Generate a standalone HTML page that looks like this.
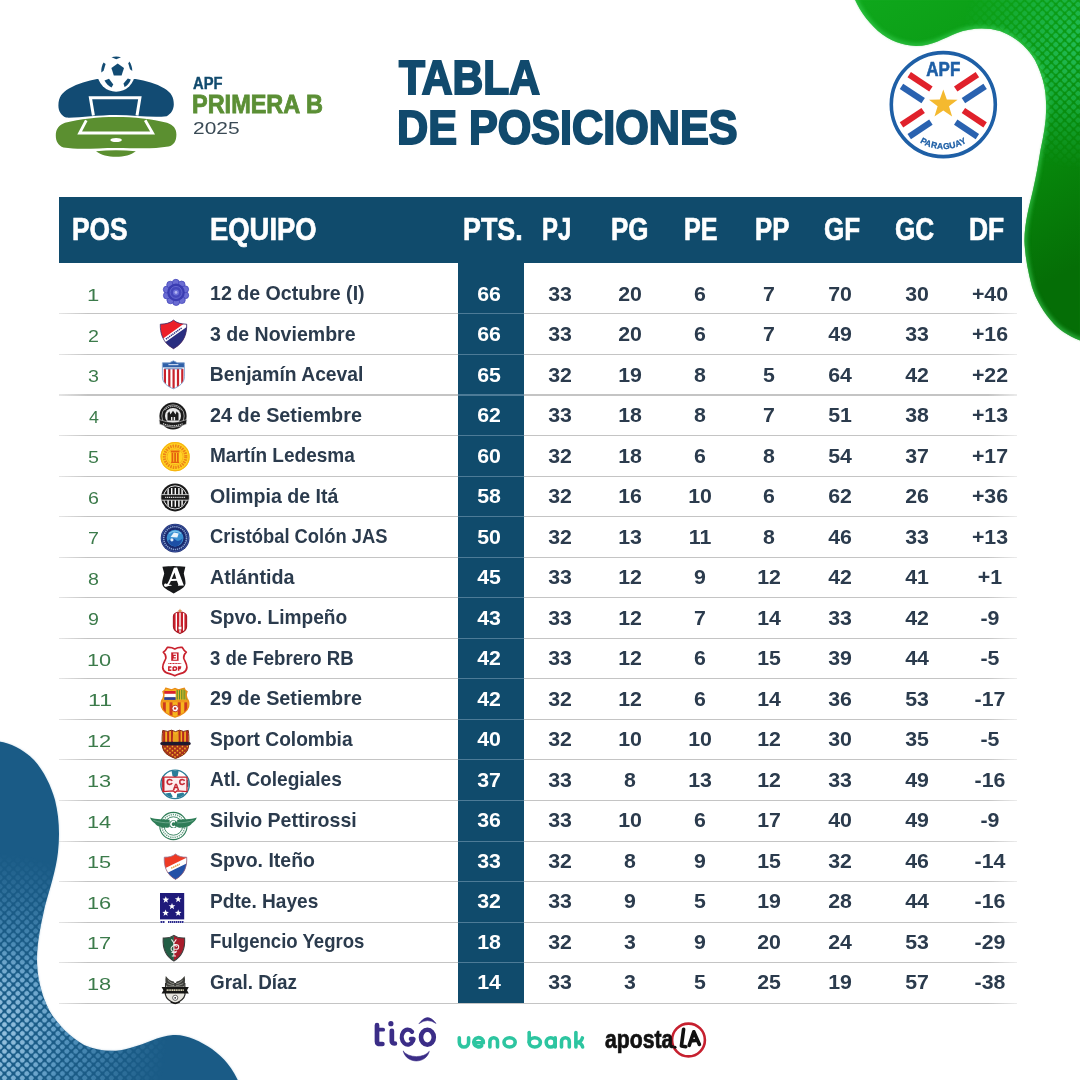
<!DOCTYPE html>
<html lang="es"><head><meta charset="utf-8"><title>Tabla de Posiciones - APF Primera B 2025</title>
<style>
html,body{margin:0;padding:0;background:#fff;}
body{width:1080px;height:1080px;position:relative;overflow:hidden;font-family:"Liberation Sans",sans-serif;}
.t{position:absolute;white-space:nowrap;line-height:1;display:block;}
.abs{position:absolute;}
svg{position:absolute;left:0;top:0;overflow:visible;}
.ln{position:absolute;left:58.5px;width:958px;height:1.1px;background:linear-gradient(90deg,rgba(190,190,190,0.4),#c4c4c4 3%,#c4c4c4 97%,rgba(190,190,190,0.3));}
.lnp{position:absolute;left:458px;width:66px;height:1.1px;background:#4d7b97;}
#stage{position:absolute;left:0;top:0;width:1080px;height:1080px;will-change:transform;}
</style></head><body><div id="stage">
<svg width="1080" height="1080" viewBox="0 0 1080 1080">
<defs>
<linearGradient id="gg" x1="0" y1="0" x2="0.35" y2="1">
<stop offset="0" stop-color="#0fa81c"/><stop offset="0.4" stop-color="#0a9913"/><stop offset="0.7" stop-color="#07860b"/><stop offset="1" stop-color="#056e06"/>
</linearGradient>
<filter id="bl2" x="-10%" y="-10%" width="120%" height="120%"><feGaussianBlur stdDeviation="1.2"/></filter>
<filter id="bl3" x="-10%" y="-10%" width="120%" height="120%"><feGaussianBlur stdDeviation="2"/></filter>
<filter id="bl5" x="-10%" y="-10%" width="120%" height="120%"><feGaussianBlur stdDeviation="4"/></filter>
<clipPath id="gclip"><path id="gpath" d="M853,-5 C858,8 866,20 878,31 C890,41 902,45 916,46 C932,46 944,38 957,33 C970,28 986,27 1000,31 C1016,37 1028,48 1035,60 C1042,74 1046,88 1046,102 C1047,118 1044,134 1040.5,150 C1038.5,162 1036.5,175 1033,190 C1029.5,205 1024.6,222 1024.4,241 C1025,256 1028,272 1032,287 C1036,300 1044,313 1054,324 C1062,332 1072,338 1085,342 L1085,-5 Z"/></clipPath>
<pattern id="gdots" width="6.3" height="6.3" patternUnits="userSpaceOnUse" patternTransform="rotate(45)">
<rect x="0.7" y="0.7" width="4.9" height="4.9" rx="1.8" fill="#27c366"/>
</pattern>
<radialGradient id="gmaskg" cx="1085" cy="45" r="125" gradientUnits="userSpaceOnUse">
<stop offset="0" stop-color="#fff" stop-opacity="0.85"/><stop offset="0.5" stop-color="#fff" stop-opacity="0.5"/><stop offset="1" stop-color="#fff" stop-opacity="0"/>
</radialGradient>
<mask id="gmask"><rect x="800" y="-10" width="300" height="400" fill="url(#gmaskg)"/></mask>
<clipPath id="bclip"><path id="bpath" d="M-5,741 C8,742 22,748 34,760 C44,771 51,786 55,800 C59,816 60,834 58,852 C56,870 50,888 45,906 C41,924 37,942 37,960 C37,976 41,994 49,1010 C57,1024 69,1036 84,1045 C98,1051 114,1053 130,1048 C146,1044 158,1036 173,1035 C186,1034 200,1041 212,1049 C224,1058 233,1068 240,1085 L-5,1085 Z"/></clipPath>
<pattern id="bdots" width="6.3" height="6.3" patternUnits="userSpaceOnUse" patternTransform="rotate(45)">
<rect x="0.75" y="0.75" width="4.8" height="4.8" rx="1.9" fill="#5f9fca"/>
</pattern>
<pattern id="bdots2" width="6.3" height="6.3" patternUnits="userSpaceOnUse" patternTransform="rotate(45)">
<rect x="0.95" y="0.95" width="4.4" height="4.4" rx="1.9" fill="#a9cce4"/>
</pattern>
<radialGradient id="bmaskg2" cx="-30" cy="1030" r="100" gradientUnits="userSpaceOnUse">
<stop offset="0" stop-color="#fff" stop-opacity="0.95"/><stop offset="0.5" stop-color="#fff" stop-opacity="0.6"/><stop offset="1" stop-color="#fff" stop-opacity="0"/>
</radialGradient>
<mask id="bmask2"><rect x="-10" y="700" width="300" height="400" fill="url(#bmaskg2)"/></mask>
<radialGradient id="bmaskg" cx="-10" cy="1030" r="178" gradientUnits="userSpaceOnUse">
<stop offset="0" stop-color="#fff" stop-opacity="1"/><stop offset="0.35" stop-color="#fff" stop-opacity="0.9"/><stop offset="0.7" stop-color="#fff" stop-opacity="0.4"/><stop offset="1" stop-color="#fff" stop-opacity="0"/>
</radialGradient>
<mask id="bmask"><rect x="-10" y="700" width="300" height="400" fill="url(#bmaskg)"/></mask>
</defs>
<!-- green blob -->
<use href="#gpath" fill="#bfe8c4" filter="url(#bl2)"/>
<use href="#gpath" fill="url(#gg)"/>
<g clip-path="url(#gclip)">
<rect x="800" y="-10" width="300" height="400" fill="url(#gdots)" mask="url(#gmask)"/>
<use href="#gpath" fill="none" stroke="#3fd45c" stroke-width="4" filter="url(#bl3)" opacity="0.75"/>
</g>
<!-- blue blob -->
<use href="#bpath" fill="#c5d8e6" filter="url(#bl2)"/>
<use href="#bpath" fill="#1a5b86"/>
<g clip-path="url(#bclip)">
<rect x="-10" y="700" width="300" height="400" fill="url(#bdots)" mask="url(#bmask)"/>
<rect x="-10" y="700" width="300" height="400" fill="url(#bdots2)" mask="url(#bmask2)"/>
</g>
</svg>

<div class="abs" style="left:59px;top:197px;width:963px;height:65.5px;background:#104b6c"></div>
<div class="abs" style="left:458px;top:262px;width:66px;height:741.5px;background:#104b6c"></div>
<div class="ln" style="top:313.35px"></div>
<div class="lnp" style="top:313.35px"></div>
<div class="ln" style="top:353.90px"></div>
<div class="lnp" style="top:353.90px"></div>
<div class="ln" style="top:394.45px"></div>
<div class="lnp" style="top:394.45px"></div>
<div class="ln" style="top:435.00px"></div>
<div class="lnp" style="top:435.00px"></div>
<div class="ln" style="top:475.55px"></div>
<div class="lnp" style="top:475.55px"></div>
<div class="ln" style="top:516.10px"></div>
<div class="lnp" style="top:516.10px"></div>
<div class="ln" style="top:556.65px"></div>
<div class="lnp" style="top:556.65px"></div>
<div class="ln" style="top:597.20px"></div>
<div class="lnp" style="top:597.20px"></div>
<div class="ln" style="top:637.75px"></div>
<div class="lnp" style="top:637.75px"></div>
<div class="ln" style="top:678.30px"></div>
<div class="lnp" style="top:678.30px"></div>
<div class="ln" style="top:718.85px"></div>
<div class="lnp" style="top:718.85px"></div>
<div class="ln" style="top:759.40px"></div>
<div class="lnp" style="top:759.40px"></div>
<div class="ln" style="top:799.95px"></div>
<div class="lnp" style="top:799.95px"></div>
<div class="ln" style="top:840.50px"></div>
<div class="lnp" style="top:840.50px"></div>
<div class="ln" style="top:881.05px"></div>
<div class="lnp" style="top:881.05px"></div>
<div class="ln" style="top:921.60px"></div>
<div class="lnp" style="top:921.60px"></div>
<div class="ln" style="top:962.15px"></div>
<div class="lnp" style="top:962.15px"></div>
<div class="ln" style="top:1002.70px"></div>
<span class="t" id="h_POS" style="left:71.94px;top:214px;font-size:31.5px;color:#fff;font-weight:700;transform-origin:0 0;transform:scaleX(0.8360);-webkit-text-stroke:0.7px #fff;">POS</span>
<span class="t" id="h_EQUIPO" style="left:209.87px;top:214px;font-size:31.5px;color:#fff;font-weight:700;transform-origin:0 0;transform:scaleX(0.8703);-webkit-text-stroke:0.7px #fff;">EQUIPO</span>
<span class="t" id="h_PTS" style="left:462.90px;top:214px;font-size:31.5px;color:#fff;font-weight:700;transform-origin:0 0;transform:scaleX(0.8517);-webkit-text-stroke:0.7px #fff;">PTS.</span>
<span class="t" id="h_PJ" style="left:542.10px;top:214px;font-size:31.5px;color:#fff;font-weight:700;transform-origin:0 0;transform:scaleX(0.7591);-webkit-text-stroke:0.7px #fff;">PJ</span>
<span class="t" id="h_PG" style="left:611.11px;top:214px;font-size:31.5px;color:#fff;font-weight:700;transform-origin:0 0;transform:scaleX(0.8223);-webkit-text-stroke:0.7px #fff;">PG</span>
<span class="t" id="h_PE" style="left:684.43px;top:214px;font-size:31.5px;color:#fff;font-weight:700;transform-origin:0 0;transform:scaleX(0.7962);-webkit-text-stroke:0.7px #fff;">PE</span>
<span class="t" id="h_PP" style="left:755.20px;top:214px;font-size:31.5px;color:#fff;font-weight:700;transform-origin:0 0;transform:scaleX(0.8173);-webkit-text-stroke:0.7px #fff;">PP</span>
<span class="t" id="h_GF" style="left:824.34px;top:214px;font-size:31.5px;color:#fff;font-weight:700;transform-origin:0 0;transform:scaleX(0.8263);-webkit-text-stroke:0.7px #fff;">GF</span>
<span class="t" id="h_GC" style="left:894.97px;top:214px;font-size:31.5px;color:#fff;font-weight:700;transform-origin:0 0;transform:scaleX(0.8300);-webkit-text-stroke:0.7px #fff;">GC</span>
<span class="t" id="h_DF" style="left:969.22px;top:214px;font-size:31.5px;color:#fff;font-weight:700;transform-origin:0 0;transform:scaleX(0.8377);-webkit-text-stroke:0.7px #fff;">DF</span>
<span class="t" id="n_0" style="left:209.78px;top:284px;font-size:19.3px;color:#2b3b4d;font-weight:700;transform-origin:0 0;transform:scaleX(1.0162);">12 de Octubre (I)</span>
<span class="t" id="p_0" style="left:87.02px;top:288px;font-size:16.8px;color:#3c7b4b;font-weight:400;transform-origin:0 0;transform:scaleX(1.3164);">1</span>
<span class="t" style="left:489.00px;top:284px;font-size:20.5px;color:#fff;font-weight:700;transform:translateX(-50%) scaleX(1.0400);transform-origin:50% 0;">66</span>
<span class="t" style="left:560.00px;top:284px;font-size:20.5px;color:#2b3b4d;font-weight:700;transform:translateX(-50%) scaleX(1.0400);transform-origin:50% 0;">33</span>
<span class="t" style="left:630.00px;top:284px;font-size:20.5px;color:#2b3b4d;font-weight:700;transform:translateX(-50%) scaleX(1.0400);transform-origin:50% 0;">20</span>
<span class="t" style="left:700.00px;top:284px;font-size:20.5px;color:#2b3b4d;font-weight:700;transform:translateX(-50%) scaleX(1.0400);transform-origin:50% 0;">6</span>
<span class="t" style="left:769.00px;top:284px;font-size:20.5px;color:#2b3b4d;font-weight:700;transform:translateX(-50%) scaleX(1.0400);transform-origin:50% 0;">7</span>
<span class="t" style="left:840.00px;top:284px;font-size:20.5px;color:#2b3b4d;font-weight:700;transform:translateX(-50%) scaleX(1.0400);transform-origin:50% 0;">70</span>
<span class="t" style="left:917.00px;top:284px;font-size:20.5px;color:#2b3b4d;font-weight:700;transform:translateX(-50%) scaleX(1.0400);transform-origin:50% 0;">30</span>
<span class="t" style="left:990.00px;top:284px;font-size:20.5px;color:#2b3b4d;font-weight:700;transform:translateX(-50%) scaleX(1.0400);transform-origin:50% 0;">+40</span>
<span class="t" id="n_1" style="left:209.79px;top:325px;font-size:19.3px;color:#2b3b4d;font-weight:700;transform-origin:0 0;transform:scaleX(1.0140);">3 de Noviembre</span>
<span class="t" id="p_1" style="left:88.33px;top:329px;font-size:16.8px;color:#3c7b4b;font-weight:400;transform-origin:0 0;transform:scaleX(1.1701);">2</span>
<span class="t" style="left:489.00px;top:324px;font-size:20.5px;color:#fff;font-weight:700;transform:translateX(-50%) scaleX(1.0400);transform-origin:50% 0;">66</span>
<span class="t" style="left:560.00px;top:324px;font-size:20.5px;color:#2b3b4d;font-weight:700;transform:translateX(-50%) scaleX(1.0400);transform-origin:50% 0;">33</span>
<span class="t" style="left:630.00px;top:324px;font-size:20.5px;color:#2b3b4d;font-weight:700;transform:translateX(-50%) scaleX(1.0400);transform-origin:50% 0;">20</span>
<span class="t" style="left:700.00px;top:324px;font-size:20.5px;color:#2b3b4d;font-weight:700;transform:translateX(-50%) scaleX(1.0400);transform-origin:50% 0;">6</span>
<span class="t" style="left:769.00px;top:324px;font-size:20.5px;color:#2b3b4d;font-weight:700;transform:translateX(-50%) scaleX(1.0400);transform-origin:50% 0;">7</span>
<span class="t" style="left:840.00px;top:324px;font-size:20.5px;color:#2b3b4d;font-weight:700;transform:translateX(-50%) scaleX(1.0400);transform-origin:50% 0;">49</span>
<span class="t" style="left:917.00px;top:324px;font-size:20.5px;color:#2b3b4d;font-weight:700;transform:translateX(-50%) scaleX(1.0400);transform-origin:50% 0;">33</span>
<span class="t" style="left:990.00px;top:324px;font-size:20.5px;color:#2b3b4d;font-weight:700;transform:translateX(-50%) scaleX(1.0400);transform-origin:50% 0;">+16</span>
<span class="t" id="n_2" style="left:209.80px;top:365px;font-size:19.3px;color:#2b3b4d;font-weight:700;transform-origin:0 0;transform:scaleX(1.0000);">Benjamín Aceval</span>
<span class="t" id="p_2" style="left:88.32px;top:369px;font-size:16.8px;color:#3c7b4b;font-weight:400;transform-origin:0 0;transform:scaleX(1.1701);">3</span>
<span class="t" style="left:489.00px;top:365px;font-size:20.5px;color:#fff;font-weight:700;transform:translateX(-50%) scaleX(1.0400);transform-origin:50% 0;">65</span>
<span class="t" style="left:560.00px;top:365px;font-size:20.5px;color:#2b3b4d;font-weight:700;transform:translateX(-50%) scaleX(1.0400);transform-origin:50% 0;">32</span>
<span class="t" style="left:630.00px;top:365px;font-size:20.5px;color:#2b3b4d;font-weight:700;transform:translateX(-50%) scaleX(1.0400);transform-origin:50% 0;">19</span>
<span class="t" style="left:700.00px;top:365px;font-size:20.5px;color:#2b3b4d;font-weight:700;transform:translateX(-50%) scaleX(1.0400);transform-origin:50% 0;">8</span>
<span class="t" style="left:769.00px;top:365px;font-size:20.5px;color:#2b3b4d;font-weight:700;transform:translateX(-50%) scaleX(1.0400);transform-origin:50% 0;">5</span>
<span class="t" style="left:840.00px;top:365px;font-size:20.5px;color:#2b3b4d;font-weight:700;transform:translateX(-50%) scaleX(1.0400);transform-origin:50% 0;">64</span>
<span class="t" style="left:917.00px;top:365px;font-size:20.5px;color:#2b3b4d;font-weight:700;transform:translateX(-50%) scaleX(1.0400);transform-origin:50% 0;">42</span>
<span class="t" style="left:990.00px;top:365px;font-size:20.5px;color:#2b3b4d;font-weight:700;transform:translateX(-50%) scaleX(1.0400);transform-origin:50% 0;">+22</span>
<span class="t" id="n_3" style="left:209.79px;top:406px;font-size:19.3px;color:#2b3b4d;font-weight:700;transform-origin:0 0;transform:scaleX(1.0272);">24 de Setiembre</span>
<span class="t" id="p_3" style="left:89.37px;top:410px;font-size:16.8px;color:#3c7b4b;font-weight:400;transform-origin:0 0;transform:scaleX(1.0634);">4</span>
<span class="t" style="left:489.00px;top:405px;font-size:20.5px;color:#fff;font-weight:700;transform:translateX(-50%) scaleX(1.0400);transform-origin:50% 0;">62</span>
<span class="t" style="left:560.00px;top:405px;font-size:20.5px;color:#2b3b4d;font-weight:700;transform:translateX(-50%) scaleX(1.0400);transform-origin:50% 0;">33</span>
<span class="t" style="left:630.00px;top:405px;font-size:20.5px;color:#2b3b4d;font-weight:700;transform:translateX(-50%) scaleX(1.0400);transform-origin:50% 0;">18</span>
<span class="t" style="left:700.00px;top:405px;font-size:20.5px;color:#2b3b4d;font-weight:700;transform:translateX(-50%) scaleX(1.0400);transform-origin:50% 0;">8</span>
<span class="t" style="left:769.00px;top:405px;font-size:20.5px;color:#2b3b4d;font-weight:700;transform:translateX(-50%) scaleX(1.0400);transform-origin:50% 0;">7</span>
<span class="t" style="left:840.00px;top:405px;font-size:20.5px;color:#2b3b4d;font-weight:700;transform:translateX(-50%) scaleX(1.0400);transform-origin:50% 0;">51</span>
<span class="t" style="left:917.00px;top:405px;font-size:20.5px;color:#2b3b4d;font-weight:700;transform:translateX(-50%) scaleX(1.0400);transform-origin:50% 0;">38</span>
<span class="t" style="left:990.00px;top:405px;font-size:20.5px;color:#2b3b4d;font-weight:700;transform:translateX(-50%) scaleX(1.0400);transform-origin:50% 0;">+13</span>
<span class="t" id="n_4" style="left:209.81px;top:446px;font-size:19.3px;color:#2b3b4d;font-weight:700;transform-origin:0 0;transform:scaleX(0.9863);">Martín Ledesma</span>
<span class="t" id="p_4" style="left:88.32px;top:450px;font-size:16.8px;color:#3c7b4b;font-weight:400;transform-origin:0 0;transform:scaleX(1.1701);">5</span>
<span class="t" style="left:489.00px;top:446px;font-size:20.5px;color:#fff;font-weight:700;transform:translateX(-50%) scaleX(1.0400);transform-origin:50% 0;">60</span>
<span class="t" style="left:560.00px;top:446px;font-size:20.5px;color:#2b3b4d;font-weight:700;transform:translateX(-50%) scaleX(1.0400);transform-origin:50% 0;">32</span>
<span class="t" style="left:630.00px;top:446px;font-size:20.5px;color:#2b3b4d;font-weight:700;transform:translateX(-50%) scaleX(1.0400);transform-origin:50% 0;">18</span>
<span class="t" style="left:700.00px;top:446px;font-size:20.5px;color:#2b3b4d;font-weight:700;transform:translateX(-50%) scaleX(1.0400);transform-origin:50% 0;">6</span>
<span class="t" style="left:769.00px;top:446px;font-size:20.5px;color:#2b3b4d;font-weight:700;transform:translateX(-50%) scaleX(1.0400);transform-origin:50% 0;">8</span>
<span class="t" style="left:840.00px;top:446px;font-size:20.5px;color:#2b3b4d;font-weight:700;transform:translateX(-50%) scaleX(1.0400);transform-origin:50% 0;">54</span>
<span class="t" style="left:917.00px;top:446px;font-size:20.5px;color:#2b3b4d;font-weight:700;transform:translateX(-50%) scaleX(1.0400);transform-origin:50% 0;">37</span>
<span class="t" style="left:990.00px;top:446px;font-size:20.5px;color:#2b3b4d;font-weight:700;transform:translateX(-50%) scaleX(1.0400);transform-origin:50% 0;">+17</span>
<span class="t" id="n_5" style="left:209.79px;top:487px;font-size:19.3px;color:#2b3b4d;font-weight:700;transform-origin:0 0;transform:scaleX(1.0159);">Olimpia de Itá</span>
<span class="t" id="p_5" style="left:88.33px;top:491px;font-size:16.8px;color:#3c7b4b;font-weight:400;transform-origin:0 0;transform:scaleX(1.1701);">6</span>
<span class="t" style="left:489.00px;top:486px;font-size:20.5px;color:#fff;font-weight:700;transform:translateX(-50%) scaleX(1.0400);transform-origin:50% 0;">58</span>
<span class="t" style="left:560.00px;top:486px;font-size:20.5px;color:#2b3b4d;font-weight:700;transform:translateX(-50%) scaleX(1.0400);transform-origin:50% 0;">32</span>
<span class="t" style="left:630.00px;top:486px;font-size:20.5px;color:#2b3b4d;font-weight:700;transform:translateX(-50%) scaleX(1.0400);transform-origin:50% 0;">16</span>
<span class="t" style="left:700.00px;top:486px;font-size:20.5px;color:#2b3b4d;font-weight:700;transform:translateX(-50%) scaleX(1.0400);transform-origin:50% 0;">10</span>
<span class="t" style="left:769.00px;top:486px;font-size:20.5px;color:#2b3b4d;font-weight:700;transform:translateX(-50%) scaleX(1.0400);transform-origin:50% 0;">6</span>
<span class="t" style="left:840.00px;top:486px;font-size:20.5px;color:#2b3b4d;font-weight:700;transform:translateX(-50%) scaleX(1.0400);transform-origin:50% 0;">62</span>
<span class="t" style="left:917.00px;top:486px;font-size:20.5px;color:#2b3b4d;font-weight:700;transform:translateX(-50%) scaleX(1.0400);transform-origin:50% 0;">26</span>
<span class="t" style="left:990.00px;top:486px;font-size:20.5px;color:#2b3b4d;font-weight:700;transform:translateX(-50%) scaleX(1.0400);transform-origin:50% 0;">+36</span>
<span class="t" id="n_6" style="left:209.79px;top:527px;font-size:19.3px;color:#2b3b4d;font-weight:700;transform-origin:0 0;transform:scaleX(0.9516);">Cristóbal Colón JAS</span>
<span class="t" id="p_6" style="left:88.33px;top:531px;font-size:16.8px;color:#3c7b4b;font-weight:400;transform-origin:0 0;transform:scaleX(1.1701);">7</span>
<span class="t" style="left:489.00px;top:527px;font-size:20.5px;color:#fff;font-weight:700;transform:translateX(-50%) scaleX(1.0400);transform-origin:50% 0;">50</span>
<span class="t" style="left:560.00px;top:527px;font-size:20.5px;color:#2b3b4d;font-weight:700;transform:translateX(-50%) scaleX(1.0400);transform-origin:50% 0;">32</span>
<span class="t" style="left:630.00px;top:527px;font-size:20.5px;color:#2b3b4d;font-weight:700;transform:translateX(-50%) scaleX(1.0400);transform-origin:50% 0;">13</span>
<span class="t" style="left:700.00px;top:527px;font-size:20.5px;color:#2b3b4d;font-weight:700;transform:translateX(-50%) scaleX(1.0400);transform-origin:50% 0;">11</span>
<span class="t" style="left:769.00px;top:527px;font-size:20.5px;color:#2b3b4d;font-weight:700;transform:translateX(-50%) scaleX(1.0400);transform-origin:50% 0;">8</span>
<span class="t" style="left:840.00px;top:527px;font-size:20.5px;color:#2b3b4d;font-weight:700;transform:translateX(-50%) scaleX(1.0400);transform-origin:50% 0;">46</span>
<span class="t" style="left:917.00px;top:527px;font-size:20.5px;color:#2b3b4d;font-weight:700;transform:translateX(-50%) scaleX(1.0400);transform-origin:50% 0;">33</span>
<span class="t" style="left:990.00px;top:527px;font-size:20.5px;color:#2b3b4d;font-weight:700;transform:translateX(-50%) scaleX(1.0400);transform-origin:50% 0;">+13</span>
<span class="t" id="n_7" style="left:209.79px;top:568px;font-size:19.3px;color:#2b3b4d;font-weight:700;transform-origin:0 0;transform:scaleX(1.0245);">Atlántida</span>
<span class="t" id="p_7" style="left:88.32px;top:572px;font-size:16.8px;color:#3c7b4b;font-weight:400;transform-origin:0 0;transform:scaleX(1.1701);">8</span>
<span class="t" style="left:489.00px;top:567px;font-size:20.5px;color:#fff;font-weight:700;transform:translateX(-50%) scaleX(1.0400);transform-origin:50% 0;">45</span>
<span class="t" style="left:560.00px;top:567px;font-size:20.5px;color:#2b3b4d;font-weight:700;transform:translateX(-50%) scaleX(1.0400);transform-origin:50% 0;">33</span>
<span class="t" style="left:630.00px;top:567px;font-size:20.5px;color:#2b3b4d;font-weight:700;transform:translateX(-50%) scaleX(1.0400);transform-origin:50% 0;">12</span>
<span class="t" style="left:700.00px;top:567px;font-size:20.5px;color:#2b3b4d;font-weight:700;transform:translateX(-50%) scaleX(1.0400);transform-origin:50% 0;">9</span>
<span class="t" style="left:769.00px;top:567px;font-size:20.5px;color:#2b3b4d;font-weight:700;transform:translateX(-50%) scaleX(1.0400);transform-origin:50% 0;">12</span>
<span class="t" style="left:840.00px;top:567px;font-size:20.5px;color:#2b3b4d;font-weight:700;transform:translateX(-50%) scaleX(1.0400);transform-origin:50% 0;">42</span>
<span class="t" style="left:917.00px;top:567px;font-size:20.5px;color:#2b3b4d;font-weight:700;transform:translateX(-50%) scaleX(1.0400);transform-origin:50% 0;">41</span>
<span class="t" style="left:990.00px;top:567px;font-size:20.5px;color:#2b3b4d;font-weight:700;transform:translateX(-50%) scaleX(1.0400);transform-origin:50% 0;">+1</span>
<span class="t" id="n_8" style="left:209.78px;top:608px;font-size:19.3px;color:#2b3b4d;font-weight:700;transform-origin:0 0;transform:scaleX(0.9930);">Spvo. Limpeño</span>
<span class="t" id="p_8" style="left:88.33px;top:612px;font-size:16.8px;color:#3c7b4b;font-weight:400;transform-origin:0 0;transform:scaleX(1.1701);">9</span>
<span class="t" style="left:489.00px;top:608px;font-size:20.5px;color:#fff;font-weight:700;transform:translateX(-50%) scaleX(1.0400);transform-origin:50% 0;">43</span>
<span class="t" style="left:560.00px;top:608px;font-size:20.5px;color:#2b3b4d;font-weight:700;transform:translateX(-50%) scaleX(1.0400);transform-origin:50% 0;">33</span>
<span class="t" style="left:630.00px;top:608px;font-size:20.5px;color:#2b3b4d;font-weight:700;transform:translateX(-50%) scaleX(1.0400);transform-origin:50% 0;">12</span>
<span class="t" style="left:700.00px;top:608px;font-size:20.5px;color:#2b3b4d;font-weight:700;transform:translateX(-50%) scaleX(1.0400);transform-origin:50% 0;">7</span>
<span class="t" style="left:769.00px;top:608px;font-size:20.5px;color:#2b3b4d;font-weight:700;transform:translateX(-50%) scaleX(1.0400);transform-origin:50% 0;">14</span>
<span class="t" style="left:840.00px;top:608px;font-size:20.5px;color:#2b3b4d;font-weight:700;transform:translateX(-50%) scaleX(1.0400);transform-origin:50% 0;">33</span>
<span class="t" style="left:917.00px;top:608px;font-size:20.5px;color:#2b3b4d;font-weight:700;transform:translateX(-50%) scaleX(1.0400);transform-origin:50% 0;">42</span>
<span class="t" style="left:990.00px;top:608px;font-size:20.5px;color:#2b3b4d;font-weight:700;transform:translateX(-50%) scaleX(1.0400);transform-origin:50% 0;">-9</span>
<span class="t" id="n_9" style="left:209.70px;top:649px;font-size:19.3px;color:#2b3b4d;font-weight:700;transform-origin:0 0;transform:scaleX(0.9650);">3 de Febrero RB</span>
<span class="t" id="p_9" style="left:86.99px;top:653px;font-size:16.8px;color:#3c7b4b;font-weight:400;transform-origin:0 0;transform:scaleX(1.2990);">10</span>
<span class="t" style="left:489.00px;top:648px;font-size:20.5px;color:#fff;font-weight:700;transform:translateX(-50%) scaleX(1.0400);transform-origin:50% 0;">42</span>
<span class="t" style="left:560.00px;top:648px;font-size:20.5px;color:#2b3b4d;font-weight:700;transform:translateX(-50%) scaleX(1.0400);transform-origin:50% 0;">33</span>
<span class="t" style="left:630.00px;top:648px;font-size:20.5px;color:#2b3b4d;font-weight:700;transform:translateX(-50%) scaleX(1.0400);transform-origin:50% 0;">12</span>
<span class="t" style="left:700.00px;top:648px;font-size:20.5px;color:#2b3b4d;font-weight:700;transform:translateX(-50%) scaleX(1.0400);transform-origin:50% 0;">6</span>
<span class="t" style="left:769.00px;top:648px;font-size:20.5px;color:#2b3b4d;font-weight:700;transform:translateX(-50%) scaleX(1.0400);transform-origin:50% 0;">15</span>
<span class="t" style="left:840.00px;top:648px;font-size:20.5px;color:#2b3b4d;font-weight:700;transform:translateX(-50%) scaleX(1.0400);transform-origin:50% 0;">39</span>
<span class="t" style="left:917.00px;top:648px;font-size:20.5px;color:#2b3b4d;font-weight:700;transform:translateX(-50%) scaleX(1.0400);transform-origin:50% 0;">44</span>
<span class="t" style="left:990.00px;top:648px;font-size:20.5px;color:#2b3b4d;font-weight:700;transform:translateX(-50%) scaleX(1.0400);transform-origin:50% 0;">-5</span>
<span class="t" id="n_10" style="left:209.79px;top:689px;font-size:19.3px;color:#2b3b4d;font-weight:700;transform-origin:0 0;transform:scaleX(1.0272);">29 de Setiembre</span>
<span class="t" id="p_10" style="left:87.66px;top:693px;font-size:16.8px;color:#3c7b4b;font-weight:400;transform-origin:0 0;transform:scaleX(1.3776);">11</span>
<span class="t" style="left:489.00px;top:689px;font-size:20.5px;color:#fff;font-weight:700;transform:translateX(-50%) scaleX(1.0400);transform-origin:50% 0;">42</span>
<span class="t" style="left:560.00px;top:689px;font-size:20.5px;color:#2b3b4d;font-weight:700;transform:translateX(-50%) scaleX(1.0400);transform-origin:50% 0;">32</span>
<span class="t" style="left:630.00px;top:689px;font-size:20.5px;color:#2b3b4d;font-weight:700;transform:translateX(-50%) scaleX(1.0400);transform-origin:50% 0;">12</span>
<span class="t" style="left:700.00px;top:689px;font-size:20.5px;color:#2b3b4d;font-weight:700;transform:translateX(-50%) scaleX(1.0400);transform-origin:50% 0;">6</span>
<span class="t" style="left:769.00px;top:689px;font-size:20.5px;color:#2b3b4d;font-weight:700;transform:translateX(-50%) scaleX(1.0400);transform-origin:50% 0;">14</span>
<span class="t" style="left:840.00px;top:689px;font-size:20.5px;color:#2b3b4d;font-weight:700;transform:translateX(-50%) scaleX(1.0400);transform-origin:50% 0;">36</span>
<span class="t" style="left:917.00px;top:689px;font-size:20.5px;color:#2b3b4d;font-weight:700;transform:translateX(-50%) scaleX(1.0400);transform-origin:50% 0;">53</span>
<span class="t" style="left:990.00px;top:689px;font-size:20.5px;color:#2b3b4d;font-weight:700;transform:translateX(-50%) scaleX(1.0400);transform-origin:50% 0;">-17</span>
<span class="t" id="n_11" style="left:209.79px;top:730px;font-size:19.3px;color:#2b3b4d;font-weight:700;transform-origin:0 0;transform:scaleX(0.9931);">Sport Colombia</span>
<span class="t" id="p_11" style="left:86.92px;top:734px;font-size:16.8px;color:#3c7b4b;font-weight:400;transform-origin:0 0;transform:scaleX(1.2991);">12</span>
<span class="t" style="left:489.00px;top:729px;font-size:20.5px;color:#fff;font-weight:700;transform:translateX(-50%) scaleX(1.0400);transform-origin:50% 0;">40</span>
<span class="t" style="left:560.00px;top:729px;font-size:20.5px;color:#2b3b4d;font-weight:700;transform:translateX(-50%) scaleX(1.0400);transform-origin:50% 0;">32</span>
<span class="t" style="left:630.00px;top:729px;font-size:20.5px;color:#2b3b4d;font-weight:700;transform:translateX(-50%) scaleX(1.0400);transform-origin:50% 0;">10</span>
<span class="t" style="left:700.00px;top:729px;font-size:20.5px;color:#2b3b4d;font-weight:700;transform:translateX(-50%) scaleX(1.0400);transform-origin:50% 0;">10</span>
<span class="t" style="left:769.00px;top:729px;font-size:20.5px;color:#2b3b4d;font-weight:700;transform:translateX(-50%) scaleX(1.0400);transform-origin:50% 0;">12</span>
<span class="t" style="left:840.00px;top:729px;font-size:20.5px;color:#2b3b4d;font-weight:700;transform:translateX(-50%) scaleX(1.0400);transform-origin:50% 0;">30</span>
<span class="t" style="left:917.00px;top:729px;font-size:20.5px;color:#2b3b4d;font-weight:700;transform:translateX(-50%) scaleX(1.0400);transform-origin:50% 0;">35</span>
<span class="t" style="left:990.00px;top:729px;font-size:20.5px;color:#2b3b4d;font-weight:700;transform:translateX(-50%) scaleX(1.0400);transform-origin:50% 0;">-5</span>
<span class="t" id="n_12" style="left:209.79px;top:770px;font-size:19.3px;color:#2b3b4d;font-weight:700;transform-origin:0 0;transform:scaleX(0.9927);">Atl. Colegiales</span>
<span class="t" id="p_12" style="left:86.93px;top:774px;font-size:16.8px;color:#3c7b4b;font-weight:400;transform-origin:0 0;transform:scaleX(1.2990);">13</span>
<span class="t" style="left:489.00px;top:770px;font-size:20.5px;color:#fff;font-weight:700;transform:translateX(-50%) scaleX(1.0400);transform-origin:50% 0;">37</span>
<span class="t" style="left:560.00px;top:770px;font-size:20.5px;color:#2b3b4d;font-weight:700;transform:translateX(-50%) scaleX(1.0400);transform-origin:50% 0;">33</span>
<span class="t" style="left:630.00px;top:770px;font-size:20.5px;color:#2b3b4d;font-weight:700;transform:translateX(-50%) scaleX(1.0400);transform-origin:50% 0;">8</span>
<span class="t" style="left:700.00px;top:770px;font-size:20.5px;color:#2b3b4d;font-weight:700;transform:translateX(-50%) scaleX(1.0400);transform-origin:50% 0;">13</span>
<span class="t" style="left:769.00px;top:770px;font-size:20.5px;color:#2b3b4d;font-weight:700;transform:translateX(-50%) scaleX(1.0400);transform-origin:50% 0;">12</span>
<span class="t" style="left:840.00px;top:770px;font-size:20.5px;color:#2b3b4d;font-weight:700;transform:translateX(-50%) scaleX(1.0400);transform-origin:50% 0;">33</span>
<span class="t" style="left:917.00px;top:770px;font-size:20.5px;color:#2b3b4d;font-weight:700;transform:translateX(-50%) scaleX(1.0400);transform-origin:50% 0;">49</span>
<span class="t" style="left:990.00px;top:770px;font-size:20.5px;color:#2b3b4d;font-weight:700;transform:translateX(-50%) scaleX(1.0400);transform-origin:50% 0;">-16</span>
<span class="t" id="n_13" style="left:209.78px;top:811px;font-size:19.3px;color:#2b3b4d;font-weight:700;transform-origin:0 0;transform:scaleX(1.0140);">Silvio Pettirossi</span>
<span class="t" id="p_13" style="left:87.02px;top:815px;font-size:16.8px;color:#3c7b4b;font-weight:400;transform-origin:0 0;transform:scaleX(1.2990);">14</span>
<span class="t" style="left:489.00px;top:810px;font-size:20.5px;color:#fff;font-weight:700;transform:translateX(-50%) scaleX(1.0400);transform-origin:50% 0;">36</span>
<span class="t" style="left:560.00px;top:810px;font-size:20.5px;color:#2b3b4d;font-weight:700;transform:translateX(-50%) scaleX(1.0400);transform-origin:50% 0;">33</span>
<span class="t" style="left:630.00px;top:810px;font-size:20.5px;color:#2b3b4d;font-weight:700;transform:translateX(-50%) scaleX(1.0400);transform-origin:50% 0;">10</span>
<span class="t" style="left:700.00px;top:810px;font-size:20.5px;color:#2b3b4d;font-weight:700;transform:translateX(-50%) scaleX(1.0400);transform-origin:50% 0;">6</span>
<span class="t" style="left:769.00px;top:810px;font-size:20.5px;color:#2b3b4d;font-weight:700;transform:translateX(-50%) scaleX(1.0400);transform-origin:50% 0;">17</span>
<span class="t" style="left:840.00px;top:810px;font-size:20.5px;color:#2b3b4d;font-weight:700;transform:translateX(-50%) scaleX(1.0400);transform-origin:50% 0;">40</span>
<span class="t" style="left:917.00px;top:810px;font-size:20.5px;color:#2b3b4d;font-weight:700;transform:translateX(-50%) scaleX(1.0400);transform-origin:50% 0;">49</span>
<span class="t" style="left:990.00px;top:810px;font-size:20.5px;color:#2b3b4d;font-weight:700;transform:translateX(-50%) scaleX(1.0400);transform-origin:50% 0;">-9</span>
<span class="t" id="n_14" style="left:209.78px;top:851px;font-size:19.3px;color:#2b3b4d;font-weight:700;transform-origin:0 0;transform:scaleX(1.0100);">Spvo. Iteño</span>
<span class="t" id="p_14" style="left:86.95px;top:855px;font-size:16.8px;color:#3c7b4b;font-weight:400;transform-origin:0 0;transform:scaleX(1.2990);">15</span>
<span class="t" style="left:489.00px;top:851px;font-size:20.5px;color:#fff;font-weight:700;transform:translateX(-50%) scaleX(1.0400);transform-origin:50% 0;">33</span>
<span class="t" style="left:560.00px;top:851px;font-size:20.5px;color:#2b3b4d;font-weight:700;transform:translateX(-50%) scaleX(1.0400);transform-origin:50% 0;">32</span>
<span class="t" style="left:630.00px;top:851px;font-size:20.5px;color:#2b3b4d;font-weight:700;transform:translateX(-50%) scaleX(1.0400);transform-origin:50% 0;">8</span>
<span class="t" style="left:700.00px;top:851px;font-size:20.5px;color:#2b3b4d;font-weight:700;transform:translateX(-50%) scaleX(1.0400);transform-origin:50% 0;">9</span>
<span class="t" style="left:769.00px;top:851px;font-size:20.5px;color:#2b3b4d;font-weight:700;transform:translateX(-50%) scaleX(1.0400);transform-origin:50% 0;">15</span>
<span class="t" style="left:840.00px;top:851px;font-size:20.5px;color:#2b3b4d;font-weight:700;transform:translateX(-50%) scaleX(1.0400);transform-origin:50% 0;">32</span>
<span class="t" style="left:917.00px;top:851px;font-size:20.5px;color:#2b3b4d;font-weight:700;transform:translateX(-50%) scaleX(1.0400);transform-origin:50% 0;">46</span>
<span class="t" style="left:990.00px;top:851px;font-size:20.5px;color:#2b3b4d;font-weight:700;transform:translateX(-50%) scaleX(1.0400);transform-origin:50% 0;">-14</span>
<span class="t" id="n_15" style="left:209.81px;top:892px;font-size:19.3px;color:#2b3b4d;font-weight:700;transform-origin:0 0;transform:scaleX(0.9907);">Pdte. Hayes</span>
<span class="t" id="p_15" style="left:86.91px;top:896px;font-size:16.8px;color:#3c7b4b;font-weight:400;transform-origin:0 0;transform:scaleX(1.2990);">16</span>
<span class="t" style="left:489.00px;top:891px;font-size:20.5px;color:#fff;font-weight:700;transform:translateX(-50%) scaleX(1.0400);transform-origin:50% 0;">32</span>
<span class="t" style="left:560.00px;top:891px;font-size:20.5px;color:#2b3b4d;font-weight:700;transform:translateX(-50%) scaleX(1.0400);transform-origin:50% 0;">33</span>
<span class="t" style="left:630.00px;top:891px;font-size:20.5px;color:#2b3b4d;font-weight:700;transform:translateX(-50%) scaleX(1.0400);transform-origin:50% 0;">9</span>
<span class="t" style="left:700.00px;top:891px;font-size:20.5px;color:#2b3b4d;font-weight:700;transform:translateX(-50%) scaleX(1.0400);transform-origin:50% 0;">5</span>
<span class="t" style="left:769.00px;top:891px;font-size:20.5px;color:#2b3b4d;font-weight:700;transform:translateX(-50%) scaleX(1.0400);transform-origin:50% 0;">19</span>
<span class="t" style="left:840.00px;top:891px;font-size:20.5px;color:#2b3b4d;font-weight:700;transform:translateX(-50%) scaleX(1.0400);transform-origin:50% 0;">28</span>
<span class="t" style="left:917.00px;top:891px;font-size:20.5px;color:#2b3b4d;font-weight:700;transform:translateX(-50%) scaleX(1.0400);transform-origin:50% 0;">44</span>
<span class="t" style="left:990.00px;top:891px;font-size:20.5px;color:#2b3b4d;font-weight:700;transform:translateX(-50%) scaleX(1.0400);transform-origin:50% 0;">-16</span>
<span class="t" id="n_16" style="left:209.84px;top:932px;font-size:19.3px;color:#2b3b4d;font-weight:700;transform-origin:0 0;transform:scaleX(0.9631);">Fulgencio Yegros</span>
<span class="t" id="p_16" style="left:86.92px;top:936px;font-size:16.8px;color:#3c7b4b;font-weight:400;transform-origin:0 0;transform:scaleX(1.2991);">17</span>
<span class="t" style="left:489.00px;top:932px;font-size:20.5px;color:#fff;font-weight:700;transform:translateX(-50%) scaleX(1.0400);transform-origin:50% 0;">18</span>
<span class="t" style="left:560.00px;top:932px;font-size:20.5px;color:#2b3b4d;font-weight:700;transform:translateX(-50%) scaleX(1.0400);transform-origin:50% 0;">32</span>
<span class="t" style="left:630.00px;top:932px;font-size:20.5px;color:#2b3b4d;font-weight:700;transform:translateX(-50%) scaleX(1.0400);transform-origin:50% 0;">3</span>
<span class="t" style="left:700.00px;top:932px;font-size:20.5px;color:#2b3b4d;font-weight:700;transform:translateX(-50%) scaleX(1.0400);transform-origin:50% 0;">9</span>
<span class="t" style="left:769.00px;top:932px;font-size:20.5px;color:#2b3b4d;font-weight:700;transform:translateX(-50%) scaleX(1.0400);transform-origin:50% 0;">20</span>
<span class="t" style="left:840.00px;top:932px;font-size:20.5px;color:#2b3b4d;font-weight:700;transform:translateX(-50%) scaleX(1.0400);transform-origin:50% 0;">24</span>
<span class="t" style="left:917.00px;top:932px;font-size:20.5px;color:#2b3b4d;font-weight:700;transform:translateX(-50%) scaleX(1.0400);transform-origin:50% 0;">53</span>
<span class="t" style="left:990.00px;top:932px;font-size:20.5px;color:#2b3b4d;font-weight:700;transform:translateX(-50%) scaleX(1.0400);transform-origin:50% 0;">-29</span>
<span class="t" id="n_17" style="left:209.78px;top:973px;font-size:19.3px;color:#2b3b4d;font-weight:700;transform-origin:0 0;transform:scaleX(0.9787);">Gral. Díaz</span>
<span class="t" id="p_17" style="left:86.95px;top:977px;font-size:16.8px;color:#3c7b4b;font-weight:400;transform-origin:0 0;transform:scaleX(1.2990);">18</span>
<span class="t" style="left:489.00px;top:972px;font-size:20.5px;color:#fff;font-weight:700;transform:translateX(-50%) scaleX(1.0400);transform-origin:50% 0;">14</span>
<span class="t" style="left:560.00px;top:972px;font-size:20.5px;color:#2b3b4d;font-weight:700;transform:translateX(-50%) scaleX(1.0400);transform-origin:50% 0;">33</span>
<span class="t" style="left:630.00px;top:972px;font-size:20.5px;color:#2b3b4d;font-weight:700;transform:translateX(-50%) scaleX(1.0400);transform-origin:50% 0;">3</span>
<span class="t" style="left:700.00px;top:972px;font-size:20.5px;color:#2b3b4d;font-weight:700;transform:translateX(-50%) scaleX(1.0400);transform-origin:50% 0;">5</span>
<span class="t" style="left:769.00px;top:972px;font-size:20.5px;color:#2b3b4d;font-weight:700;transform:translateX(-50%) scaleX(1.0400);transform-origin:50% 0;">25</span>
<span class="t" style="left:840.00px;top:972px;font-size:20.5px;color:#2b3b4d;font-weight:700;transform:translateX(-50%) scaleX(1.0400);transform-origin:50% 0;">19</span>
<span class="t" style="left:917.00px;top:972px;font-size:20.5px;color:#2b3b4d;font-weight:700;transform:translateX(-50%) scaleX(1.0400);transform-origin:50% 0;">57</span>
<span class="t" style="left:990.00px;top:972px;font-size:20.5px;color:#2b3b4d;font-weight:700;transform:translateX(-50%) scaleX(1.0400);transform-origin:50% 0;">-38</span>
<span class="t" id="title1" style="left:398.68px;top:54px;font-size:47.2px;color:#114a6d;font-weight:700;transform-origin:0 0;transform:scaleX(0.9014);-webkit-text-stroke:2px #114a6d;">TABLA</span>
<span class="t" id="title2" style="left:396.61px;top:104px;font-size:47.2px;color:#114a6d;font-weight:700;transform-origin:0 0;transform:scaleX(0.9147);-webkit-text-stroke:2px #114a6d;">DE POSICIONES</span>
<span class="t" id="l_apf" style="left:193.35px;top:76px;font-size:16px;color:#114a6d;font-weight:700;transform-origin:0 0;transform:scaleX(0.9204);-webkit-text-stroke:0.4px #114a6d;">APF</span>
<span class="t" id="l_pb" style="left:192.24px;top:92px;font-size:25px;color:#5b8f35;font-weight:700;transform-origin:0 0;transform:scaleX(0.9390);-webkit-text-stroke:0.8px #5b8f35;">PRIMERA B</span>
<span class="t" id="l_yr" style="left:192.92px;top:120px;font-size:16.5px;color:#3a4a55;font-weight:400;transform-origin:0 0;transform:scaleX(1.2673);">2025</span>
<svg width="1080" height="1080" viewBox="0 0 1080 1080">
<!-- ===== Primera B stadium logo ===== -->
<g id="primera-b-logo">
<path d="M58.4,105.5 C58.5,97 62,92.5 69,88.5 C78,83.5 88,80.5 97,79 L135.6,79 C146,80.5 156,83.5 164.5,88.5 C171,92.5 174,97 173.8,104.6 C173.6,110 171,114 166.7,116.2 C152,118 135,115 116,115 C97,115 80,118 66,117.6 C61,115.5 58.4,111 58.4,105.5 Z" fill="#124b73"/>
<path d="M55.8,135.5 C55.8,129 59,125 65,122.8 C80,118.8 98,117 116,117 C134,117 152,118.8 167,122.8 C173.5,125 176.4,129 176.4,134.5 C176.4,141 174,145 168.5,146.6 C152,149.4 135,148 116,148 C97,148 80,150 63.5,147.6 C58,145.5 55.8,141 55.8,135.5 Z" fill="#5b8f30"/>
<path d="M96,151.2 C109,150 123,150 135.8,151.2 C131,155 124,156.8 116,156.8 C108,156.8 101,155 96,151.2 Z" fill="#5b8f30"/>
<path d="M93.4,115.5 L90.4,97.8 L139.9,97.8 L137,115.5" fill="none" stroke="#fff" stroke-width="3" stroke-linejoin="miter" transform="translate(0,0)"/>
<path d="M86.3,120.3 L79.6,133 L152.6,133 L145.2,120.3" fill="none" stroke="#fff" stroke-width="2.8" stroke-linejoin="miter"/>
<ellipse cx="116.1" cy="140" rx="5.8" ry="2" fill="#fff"/>
<circle cx="116.1" cy="72.9" r="18.8" fill="#fff"/>
<g fill="#124b73">
<path d="M117.7,63.6 L124,68.1 L121.6,75.4 L113.8,75.4 L111.4,68.1 Z"/>
<path d="M103.6,62.5 C102,65 101,68.5 101.3,72.5 L103.6,70.8 L105.6,64 Z"/>
<path d="M111.5,57.2 C114.5,56.2 118,56.2 121,57.2 L116.3,59.2 Z"/>
<path d="M129.3,61.5 C131.2,64 132.3,67.5 132.3,71 L130,69.3 L128.3,63.5 Z"/>
<path d="M104.5,80.5 L109,78.7 L113.3,84.6 L111.5,87.5 C108.6,86.3 106.2,83.8 104.5,80.5 Z"/>
<path d="M123.5,83.6 L127.8,78.5 L130.8,79.5 C129.5,83 127.4,85.4 124.6,87 Z"/>
</g>
</g>
<!-- ===== APF Paraguay logo ===== -->
<g id="apf-logo">
<circle cx="943.3" cy="104.6" r="52" fill="#fff" stroke="#1e5fa6" stroke-width="3.6"/>
<g transform="translate(943.3,105.6) rotate(213.5)"><rect x="19.5" y="3.90" width="26.0" height="6.2" fill="#e0212b"/><rect x="19.5" y="-10.10" width="26.0" height="6.2" fill="#2a62b0"/></g>
<g transform="translate(943.3,105.6) rotate(-33.5)"><rect x="19.5" y="-10.10" width="26.0" height="6.2" fill="#e0212b"/><rect x="19.5" y="3.90" width="26.0" height="6.2" fill="#2a62b0"/></g>
<g transform="translate(943.3,105.6) rotate(146.5)"><rect x="19.5" y="3.90" width="26.0" height="6.2" fill="#e0212b"/><rect x="19.5" y="-10.10" width="26.0" height="6.2" fill="#2a62b0"/></g>
<g transform="translate(943.3,105.6) rotate(33.5)"><rect x="19.5" y="-10.10" width="26.0" height="6.2" fill="#e0212b"/><rect x="19.5" y="3.90" width="26.0" height="6.2" fill="#2a62b0"/></g>
<polygon points="943.30,89.40 946.83,99.55 957.57,99.76 949.01,106.25 952.12,116.54 943.30,110.40 934.48,116.54 937.59,106.25 929.03,99.76 939.77,99.55" fill="#f4b92f"/>
<text x="943.3" y="75.8" font-family="Liberation Sans, sans-serif" font-weight="700" font-size="19.8" fill="#1e5fa6" stroke="#1e5fa6" stroke-width="0.6" text-anchor="middle" textLength="34" lengthAdjust="spacingAndGlyphs">APF</text>
<path id="pgy" d="M919.06,141.92 A44.5,44.5 0 0 0 967.54,141.92" fill="none"/>
<text font-family="Liberation Sans, sans-serif" font-weight="700" font-size="8.6" fill="#1e5fa6" stroke="#1e5fa6" stroke-width="0.25" letter-spacing="0.2"><textPath href="#pgy" startOffset="50%" text-anchor="middle">PARAGUAY</textPath></text>
</g>
<!-- ===== team crests ===== -->
<g transform="translate(176,292.4) scale(1)"><circle cx="9.17" cy="2.84" r="3.5" fill="#6a6cd2" stroke="#4446ba" stroke-width="0.8"/><circle cx="5.75" cy="7.69" r="3.5" fill="#6a6cd2" stroke="#4446ba" stroke-width="0.8"/><circle cx="0.14" cy="9.60" r="3.5" fill="#6a6cd2" stroke="#4446ba" stroke-width="0.8"/><circle cx="-5.53" cy="7.85" r="3.5" fill="#6a6cd2" stroke="#4446ba" stroke-width="0.8"/><circle cx="-9.09" cy="3.10" r="3.5" fill="#6a6cd2" stroke="#4446ba" stroke-width="0.8"/><circle cx="-9.17" cy="-2.84" r="3.5" fill="#6a6cd2" stroke="#4446ba" stroke-width="0.8"/><circle cx="-5.75" cy="-7.69" r="3.5" fill="#6a6cd2" stroke="#4446ba" stroke-width="0.8"/><circle cx="-0.14" cy="-9.60" r="3.5" fill="#6a6cd2" stroke="#4446ba" stroke-width="0.8"/><circle cx="5.53" cy="-7.85" r="3.5" fill="#6a6cd2" stroke="#4446ba" stroke-width="0.8"/><circle cx="9.09" cy="-3.10" r="3.5" fill="#6a6cd2" stroke="#4446ba" stroke-width="0.8"/><circle r="8.8" fill="#3a3cb2"/><circle r="6" fill="#4547bc" stroke="#6c6ed4" stroke-width="0.8"/><circle r="3" fill="#6d70d8"/><circle r="1.4" fill="#b4b6f2"/></g>
<g transform="translate(173.5,334.4) scale(1)"><clipPath id="c2"><path d="M0,-14.3 C-3,-11.5 -8,-10.2 -13.2,-10.2 C-13.4,-2 -11.5,8 0,14.3 C11.5,8 13.4,-2 13.2,-10.2 C8,-10.2 3,-11.5 0,-14.3 Z"/></clipPath><g clip-path="url(#c2)"><rect x="-15" y="-16" width="30" height="32" fill="#ec1f28"/><path d="M-15,10 L15,-11.2 L15,16 L-15,16 Z" fill="#2a2e80"/><path d="M-15,7.3 L15,-13.95 L15,-8.65 L-15,12.6 Z" fill="#fff"/><path d="M-7.6,4.8 L8.4,-6.6" stroke="#2a2e80" stroke-width="1.5" stroke-dasharray="1.3 0.7"/></g><path d="M0,-14.3 C-3,-11.5 -8,-10.2 -13.2,-10.2 C-13.4,-2 -11.5,8 0,14.3 C11.5,8 13.4,-2 13.2,-10.2 C8,-10.2 3,-11.5 0,-14.3 Z" fill="none" stroke="#3a3270" stroke-width="0.8"/></g>
<g transform="translate(173.4,374.8) scale(1)"><clipPath id="c3"><path d="M-11,-10.5 L-11,-12 L-4,-12 L0,-14 L4,-12 L11,-12 L11,-10.5 L11,2 C11,8 6,11.5 0,14 C-6,11.5 -11,8 -11,2 Z"/></clipPath><g clip-path="url(#c3)"><rect x="-12" y="-15" width="24" height="30" fill="#fff"/><rect x="-9.6" y="-6" width="2.2" height="21" fill="#c8222c"/><rect x="-5.2" y="-6" width="2.2" height="21" fill="#c8222c"/><rect x="-0.9" y="-6" width="2.2" height="21" fill="#c8222c"/><rect x="3.5" y="-6" width="2.2" height="21" fill="#c8222c"/><rect x="7.8" y="-6" width="2.2" height="21" fill="#c8222c"/><rect x="-12" y="-15" width="24" height="7.6" fill="#2f60a8"/><rect x="-5" y="-10.8" width="10" height="1.2" fill="#c6d6ee"/><rect x="-9" y="-6.6" width="18" height="1.1" fill="#7d93c4"/></g><path d="M-11,-10.5 L-11,-12 L-4,-12 L0,-14 L4,-12 L11,-12 L11,-10.5 L11,2 C11,8 6,11.5 0,14 C-6,11.5 -11,8 -11,2 Z" fill="none" stroke="#7fa0cf" stroke-width="0.9"/></g>
<g transform="translate(173,416) scale(1)"><circle r="13.6" fill="#1b1b1b"/><circle r="11.2" fill="none" stroke="#cfcfcf" stroke-width="0.7"/><circle r="8" fill="#e9e9e9"/><path d="M-5.5,4.5 L-5.5,-2.5 L-3.6,-4.8 L-2.6,-1.5 L0,-5.2 L2.6,-1.5 L3.6,-4.8 L5.5,-2.5 L5.5,4.5 Z" fill="#1b1b1b"/><rect x="-2" y="1" width="1.4" height="3.5" fill="#e9e9e9"/><rect x="0.7" y="1" width="1.4" height="3.5" fill="#e9e9e9"/><path d="M-13.9,3.5 Q0,9 13.9,3.5 L13.2,8.3 Q0,14 -13.2,8.3 Z" fill="#1b1b1b" stroke="#d8d8d8" stroke-width="0.6"/><path d="M-10,7.6 Q0,11.8 10,7.6" fill="none" stroke="#d0d0d0" stroke-width="1.2" stroke-dasharray="1.2 0.7"/><path d="M-8.5,-6 Q0,-13.5 8.5,-6" fill="none" stroke="#c9c9c9" stroke-width="1.1" stroke-dasharray="1.2 0.8"/></g>
<g transform="translate(175.1,456.7) scale(1)"><circle r="14.6" fill="#ffd322"/><circle r="14" fill="none" stroke="#f7b512" stroke-width="1.2"/><circle r="10.7" fill="none" stroke="#ec8418" stroke-width="3.2" stroke-dasharray="1.6 0.9"/><circle r="8" fill="#ffd324" stroke="#f29a1a" stroke-width="0.6"/><rect x="-4.4" y="-6.2" width="8.8" height="2" fill="#e5600f"/><rect x="-4" y="5" width="8" height="1.3" fill="#e5600f"/><rect x="-3.6" y="-3.8" width="1.8" height="9" fill="#e5600f"/><rect x="-0.9" y="-3.8" width="1.8" height="9" fill="#e5600f"/><rect x="1.8" y="-3.8" width="1.8" height="9" fill="#e5600f"/></g>
<g transform="translate(175.1,497.4) scale(1)"><circle r="14" fill="#1a1a1a"/><circle r="11.6" fill="#1a1a1a" stroke="#fff" stroke-width="0.9"/><clipPath id="c6"><circle r="10.8"/></clipPath><g clip-path="url(#c6)"><rect x="-7.7" y="-9.4" width="1.4" height="18.8" fill="#fff"/><rect x="-4.1" y="-9.4" width="1.4" height="18.8" fill="#fff"/><rect x="-0.49999999999999994" y="-9.4" width="1.4" height="18.8" fill="#fff"/><rect x="3.0999999999999996" y="-9.4" width="1.4" height="18.8" fill="#fff"/><rect x="6.3" y="-9.4" width="1.4" height="18.8" fill="#fff"/></g><rect x="-14.2" y="-2.8" width="28.4" height="5.6" rx="1" fill="#1a1a1a" stroke="#fff" stroke-width="0.7"/><path d="M-10,0 H10" stroke="#dcdcdc" stroke-width="1.4" stroke-dasharray="1.2 0.7"/></g>
<g transform="translate(175.1,538.1) scale(1)"><circle r="14.4" fill="#1a2a6e"/><circle r="13.5" fill="none" stroke="#4f6fc0" stroke-width="0.6"/><circle r="11.4" fill="none" stroke="#a9c4ee" stroke-width="1.6" stroke-dasharray="1.3 0.8" opacity="0.8"/><circle r="8.4" fill="#3a90d2"/><path d="M-7,2.5 Q-2,-1 0,1.5 Q3,4.5 7.5,0.5 Q6,7.5 0,8.6 Q-6,7.5 -7,2.5 Z" fill="#1d4fa6"/><path d="M-4.5,-1 L-1.2,-5.5 L3.6,-4.6 L2.2,-0.6 Z" fill="#eaf4fc"/><circle cx="-3.2" cy="1.7" r="1.6" fill="#dfeefa"/><path d="M-6,-4.5 Q0,-9.5 6,-4.5" stroke="#7cc4ec" stroke-width="1.3" fill="none"/></g>
<g transform="translate(173.7,579.4) scale(1)"><path d="M-11.3,-12.6 C-7.5,-13.4 -3.5,-13 0,-13.4 C3.5,-13 7.5,-13.4 11.6,-12.6 C11.2,-10 10.6,-8 10.1,-6 C10.6,-3 12,0.5 11.8,4.2 C11.2,8.4 6,11 0,14 C-6,11 -11.2,8.4 -11.6,4.2 C-11.8,0.5 -10,-3 -9.5,-6 C-9.9,-8 -10.7,-10 -11.3,-12.6 Z" fill="#17181a"/><path d="M0.2,-11.6 L3.4,-11.9 L9.6,4.6 L10.2,6.2 L4.2,6.4 L4.6,5 L3.2,1.4 L-2.8,1.6 C-3.6,3.4 -4.2,4.6 -5,5.4 C-3.6,5.2 -2.2,5.6 -1.4,6.6 C-3.6,6.2 -5.6,6.8 -7.2,7.4 C-8.8,7.8 -10,6.8 -9.6,5.2 C-9.2,3.8 -7.4,3.6 -6.8,4.8 C-5.4,3 -4.6,1 -3.8,-1 Z M0.8,-7 L-2,-0.4 L2.6,-0.6 Z" fill="#fff" fill-rule="evenodd"/></g>
<g transform="translate(180,621.6) scale(1)"><clipPath id="c9"><path d="M-6.6,-5.4 C-6.6,-8 -3.4,-9.6 0,-9.6 C3.4,-9.6 6.6,-8 6.6,-5.4 L6.6,5 C6.6,8.5 3.4,10.6 0,12 C-3.4,10.6 -6.6,8.5 -6.6,5 Z"/></clipPath><g clip-path="url(#c9)"><rect x="-8" y="-11" width="16" height="24" fill="#fff"/><rect x="-6.7" y="-11" width="2.3" height="24" fill="#c81e2a"/><rect x="-3" y="-11" width="2.3" height="24" fill="#c81e2a"/><rect x="0.7" y="-11" width="2.3" height="24" fill="#c81e2a"/><rect x="4.4" y="-11" width="2.3" height="24" fill="#c81e2a"/><circle cx="0" cy="6.4" r="1.9" fill="#fff" stroke="#9a1d25" stroke-width="0.5"/></g><path d="M-6.6,-5.4 C-6.6,-8 -3.4,-9.6 0,-9.6 C3.4,-9.6 6.6,-8 6.6,-5.4 L6.6,5 C6.6,8.5 3.4,10.6 0,12 C-3.4,10.6 -6.6,8.5 -6.6,5 Z" fill="none" stroke="#a81822" stroke-width="1.1"/><path d="M0,-13 L0.7,-11.3 L2.2,-11.3 L1,-10.3 L1.4,-9 L0,-9.8 L-1.4,-9 L-1,-10.3 L-2.2,-11.3 L-0.7,-11.3 Z" fill="#dd8f4a"/></g>
<g transform="translate(174.8,661.3) scale(1)"><path d="M0,-12.4 C-2.5,-13.8 -5,-14.2 -7.4,-13.9 C-8.4,-12 -9.8,-10.2 -11.5,-9.1 C-9.6,-7.4 -8.8,-5.4 -8.9,-3.2 C-9.6,-0.5 -12.3,2.5 -12.1,6.1 C-11.9,8.8 -10.5,10.4 -8.5,11.3 C-5.5,12.4 -2.5,13.2 0,14.4 C2.5,13.2 5.5,12.4 8.5,11.3 C10.5,10.4 11.9,8.8 12.1,6.1 C12.3,2.5 9.6,-0.5 8.9,-3.2 C8.8,-5.4 9.6,-7.4 11.5,-9.1 C9.8,-10.2 8.4,-12 7.4,-13.9 C5,-14.2 2.5,-13.8 0,-12.4 Z" fill="#fff" stroke="#c9222e" stroke-width="1.7" stroke-linejoin="round"/><rect x="-3.6" y="-8.9" width="7.4" height="8.4" fill="#c9222e"/><path d="M-1.6,-7.2 H1.6 V-2.2 H-1.6 M-1,-4.7 H1.6" fill="none" stroke="#fff" stroke-width="1.1"/><path d="M-6.4,2.2 H6.4" stroke="#c9222e" stroke-width="1.1" stroke-dasharray="1.1 0.45"/><g fill="none" stroke="#c9222e" stroke-width="1.5"><path d="M-3.4,5.6 H-6 V9 H-3.4"/><path d="M-1.6,5.6 V9 H0.4 Q1.8,9 1.8,7.3 Q1.8,5.6 0.4,5.6 H-1.6"/><path d="M6.4,5.6 H3.8 V9.4 M3.8,7.3 H6"/></g></g>
<g transform="translate(175,702.6) scale(1)"><clipPath id="c11"><path d="M-9.2,-14.4 L-3.4,-12.8 L0,-14.2 L3.4,-12.8 L9.2,-14.4 C9.6,-12.8 10.8,-11.6 12,-11 C11,-9 11,-6 12,-4.2 C13.6,-2 14.4,1 13.6,4 C12.4,8.6 7,12.4 0,14.6 C-7,12.4 -12.4,8.6 -13.6,4 C-14.4,1 -13.6,-2 -12,-4.2 C-11,-6 -11,-9 -12,-11 C-10.8,-11.6 -9.6,-12.8 -9.2,-14.4 Z"/></clipPath><g clip-path="url(#c11)"><rect x="-15" y="-15" width="30" height="30" fill="#f6b51d"/><rect x="-10.8" y="-11.6" width="11.4" height="3" fill="#d8232e"/><rect x="-10.8" y="-8.8" width="11.4" height="3.6" fill="#fff"/><rect x="-10.8" y="-5.4" width="11.4" height="2.9" fill="#2a3f97"/><rect x="1.2" y="-13.4" width="10.8" height="10.4" fill="#e9c02a"/><rect x="1.6" y="-13.4" width="1.2" height="10.4" fill="#5d8a2a"/><rect x="3.9" y="-13.4" width="1.2" height="10.4" fill="#5d8a2a"/><rect x="6.2" y="-13.4" width="1.2" height="10.4" fill="#5d8a2a"/><rect x="8.5" y="-13.4" width="1.2" height="10.4" fill="#5d8a2a"/><rect x="10.6" y="-13.4" width="1.2" height="10.4" fill="#5d8a2a"/><rect x="-15" y="-2.7" width="30" height="2.4" fill="#f09a1c"/><rect x="-12.2" y="-0.3" width="3" height="16" fill="#cf3a20"/><rect x="-5.5" y="-0.3" width="3" height="16" fill="#cf3a20"/><rect x="2.7" y="-0.3" width="3" height="16" fill="#cf3a20"/><rect x="9.3" y="-0.3" width="3" height="16" fill="#cf3a20"/><circle cx="0.2" cy="5.9" r="3.3" fill="#fff" stroke="#b5281e" stroke-width="0.9"/><path d="M-1,4.6 L1.4,5 L1,7 L-1.2,6.8 Z" fill="#c8301f"/></g><path d="M-9.2,-14.4 L-3.4,-12.8 L0,-14.2 L3.4,-12.8 L9.2,-14.4 C9.6,-12.8 10.8,-11.6 12,-11 C11,-9 11,-6 12,-4.2 C13.6,-2 14.4,1 13.6,4 C12.4,8.6 7,12.4 0,14.6 C-7,12.4 -12.4,8.6 -13.6,4 C-14.4,1 -13.6,-2 -12,-4.2 C-11,-6 -11,-9 -12,-11 C-10.8,-11.6 -9.6,-12.8 -9.2,-14.4 Z" fill="none" stroke="#ea8c18" stroke-width="1.3"/></g>
<g transform="translate(175.5,744) scale(1)"><clipPath id="c12"><path d="M-12.8,-13.6 L-8,-12.6 L-4,-13.8 L0,-12.4 L4,-13.8 L8,-12.6 L12.8,-13.6 C13.4,-9 13.6,-5 13.2,-1 C13.4,3 12.6,6.5 9.6,9.4 C6.6,12 3,13.4 0,14.4 C-3,13.4 -6.6,12 -9.6,9.4 C-12.6,6.5 -13.4,3 -13.2,-1 C-13.6,-5 -13.4,-9 -12.8,-13.6 Z"/></clipPath><g clip-path="url(#c12)"><rect x="-15" y="-15" width="30" height="30" fill="#f3b022"/><rect x="-12.4" y="-15" width="2.1" height="14" fill="#b52a1e"/><rect x="-8.4" y="-15" width="2.1" height="14" fill="#b52a1e"/><rect x="-4.6" y="-15" width="2.1" height="14" fill="#b52a1e"/><rect x="3.0" y="-15" width="2.1" height="14" fill="#b52a1e"/><rect x="6.6" y="-15" width="2.1" height="14" fill="#b52a1e"/><rect x="10.4" y="-15" width="2.1" height="14" fill="#b52a1e"/><path d="M-2.4,-11.6 L0,-9 L2.4,-11.6 L2.8,-3 L-2.8,-3 Z" fill="#eaa21e"/><rect x="-15" y="0.8" width="30" height="15" fill="#a8301c"/><rect x="-13.80" y="1.60" width="1.5" height="1.7" fill="#f1b024"/><rect x="-8.80" y="1.60" width="1.5" height="1.7" fill="#f1b024"/><rect x="-3.80" y="1.60" width="1.5" height="1.7" fill="#f1b024"/><rect x="1.20" y="1.60" width="1.5" height="1.7" fill="#f1b024"/><rect x="6.20" y="1.60" width="1.5" height="1.7" fill="#f1b024"/><rect x="11.20" y="1.60" width="1.5" height="1.7" fill="#f1b024"/><rect x="-11.30" y="3.70" width="1.5" height="1.7" fill="#f1b024"/><rect x="-6.30" y="3.70" width="1.5" height="1.7" fill="#f1b024"/><rect x="-1.30" y="3.70" width="1.5" height="1.7" fill="#f1b024"/><rect x="3.70" y="3.70" width="1.5" height="1.7" fill="#f1b024"/><rect x="8.70" y="3.70" width="1.5" height="1.7" fill="#f1b024"/><rect x="-13.80" y="5.80" width="1.5" height="1.7" fill="#f1b024"/><rect x="-8.80" y="5.80" width="1.5" height="1.7" fill="#f1b024"/><rect x="-3.80" y="5.80" width="1.5" height="1.7" fill="#f1b024"/><rect x="1.20" y="5.80" width="1.5" height="1.7" fill="#f1b024"/><rect x="6.20" y="5.80" width="1.5" height="1.7" fill="#f1b024"/><rect x="11.20" y="5.80" width="1.5" height="1.7" fill="#f1b024"/><rect x="-11.30" y="7.90" width="1.5" height="1.7" fill="#f1b024"/><rect x="-6.30" y="7.90" width="1.5" height="1.7" fill="#f1b024"/><rect x="-1.30" y="7.90" width="1.5" height="1.7" fill="#f1b024"/><rect x="3.70" y="7.90" width="1.5" height="1.7" fill="#f1b024"/><rect x="8.70" y="7.90" width="1.5" height="1.7" fill="#f1b024"/><rect x="-13.80" y="10.00" width="1.5" height="1.7" fill="#f1b024"/><rect x="-8.80" y="10.00" width="1.5" height="1.7" fill="#f1b024"/><rect x="-3.80" y="10.00" width="1.5" height="1.7" fill="#f1b024"/><rect x="1.20" y="10.00" width="1.5" height="1.7" fill="#f1b024"/><rect x="6.20" y="10.00" width="1.5" height="1.7" fill="#f1b024"/><rect x="11.20" y="10.00" width="1.5" height="1.7" fill="#f1b024"/><rect x="-11.30" y="12.10" width="1.5" height="1.7" fill="#f1b024"/><rect x="-6.30" y="12.10" width="1.5" height="1.7" fill="#f1b024"/><rect x="-1.30" y="12.10" width="1.5" height="1.7" fill="#f1b024"/><rect x="3.70" y="12.10" width="1.5" height="1.7" fill="#f1b024"/><rect x="8.70" y="12.10" width="1.5" height="1.7" fill="#f1b024"/><rect x="-13.80" y="14.20" width="1.5" height="1.7" fill="#f1b024"/><rect x="-8.80" y="14.20" width="1.5" height="1.7" fill="#f1b024"/><rect x="-3.80" y="14.20" width="1.5" height="1.7" fill="#f1b024"/><rect x="1.20" y="14.20" width="1.5" height="1.7" fill="#f1b024"/><rect x="6.20" y="14.20" width="1.5" height="1.7" fill="#f1b024"/><rect x="11.20" y="14.20" width="1.5" height="1.7" fill="#f1b024"/><rect x="-15" y="-2.2" width="30" height="3.5" fill="#1d1a30"/></g><path d="M-12.8,-13.6 L-8,-12.6 L-4,-13.8 L0,-12.4 L4,-13.8 L8,-12.6 L12.8,-13.6 C13.4,-9 13.6,-5 13.2,-1 C13.4,3 12.6,6.5 9.6,9.4 C6.6,12 3,13.4 0,14.4 C-3,13.4 -6.6,12 -9.6,9.4 C-12.6,6.5 -13.4,3 -13.2,-1 C-13.6,-5 -13.4,-9 -12.8,-13.6 Z" fill="none" stroke="#7c2f18" stroke-width="1"/><circle cx="-13.7" cy="-0.5" r="1.5" fill="#1d1a30"/><circle cx="13.7" cy="-0.5" r="1.5" fill="#1d1a30"/></g>
<g transform="translate(175.1,784.4) scale(1)"><circle r="14.3" fill="#fff" stroke="#2a7d98" stroke-width="1.3"/><clipPath id="c13"><circle r="13.7"/></clipPath><g clip-path="url(#c13)"><path d="M-3.6,-14 L3.6,-14 L2.6,-8.4 L0,-6.8 L-2.6,-8.4 Z" fill="#2a7d98"/><path d="M10.6,-5 L14,-4 L14,4 L11.8,2 Z" fill="#2a7d98"/><path d="M-10.6,-5 L-14,-4 L-14,4 L-11.8,2 Z" fill="#2a7d98"/><path d="M-10,9 L-4.6,8.4 L-2.4,12 L-4,14 L-9,13 Z" fill="#2a7d98"/><path d="M2,9.4 L8,8.2 L10,10.4 L6,14 L1.6,14 Z" fill="#2a7d98"/></g><path d="M-12.1,-7.2 L11.9,-7.2 L11.9,7.3 L2,6.4 L0,8.2 L-2,6.4 L-12.1,7.3 Z" fill="#fdeeee" stroke="#c6212c" stroke-width="1.3" stroke-linejoin="round"/><path d="M-11.6,-7 V7" stroke="#c6212c" stroke-width="2"/><g font-family="Liberation Sans, sans-serif" font-weight="700" font-size="9" fill="#c2202b" stroke="#c2202b" stroke-width="0.35" text-anchor="middle"><text x="-5.6" y="0.2">C</text><text x="0.8" y="6">A</text><text x="7" y="0.2">C</text></g></g>
<g transform="translate(173.4,826) scale(1)"><circle r="13.6" fill="#fff" stroke="#2e7d57" stroke-width="1.1"/><circle r="9.2" fill="#fff" stroke="#2e7d57" stroke-width="0.9"/><circle r="11.4" fill="none" stroke="#2e7d57" stroke-width="1.5" stroke-dasharray="1.2 1" opacity="0.75"/><path d="M-3.8,-6.2 C-9,-6.6 -17,-6.4 -23.4,-8.4 C-22.4,-5.6 -20.6,-3.6 -18.4,-2.6 C-17.6,-1 -15.6,0.2 -13.4,0.4 C-12.4,1.4 -10.4,2 -8.4,1.6 C-6.6,2 -4.6,1.6 -3.6,0.8 Z" fill="#2e7d57"/><path d="M-20,-5.6 C-14,-3.6 -9,-3.2 -4.4,-3.2" stroke="#7fb89c" stroke-width="0.7" fill="none"/><path d="M3.8,-6.2 C9,-6.6 17,-6.4 23.4,-8.4 C22.4,-5.6 20.6,-3.6 18.4,-2.6 C17.6,-1 15.6,0.2 13.4,0.4 C12.4,1.4 10.4,2 8.4,1.6 C6.6,2 4.6,1.6 3.6,0.8 Z" fill="#2e7d57"/><path d="M20,-5.6 C14,-3.6 9,-3.2 4.4,-3.2" stroke="#7fb89c" stroke-width="0.7" fill="none"/><circle cx="0" cy="-1.8" r="3.9" fill="#2e7d57"/><path d="M1.6,-4 A2.6,2.6 0 1 0 1.8,0.2" fill="none" stroke="#fff" stroke-width="1.5"/></g>
<g transform="translate(175.5,866.7) scale(0.95)"><clipPath id="c15"><path d="M0,-13.4 C-3,-10.8 -7.4,-9.8 -11.8,-10 C-12.2,-2 -10.6,7.6 0,13.4 C10.6,7.6 12.2,-2 11.8,-10 C7.4,-9.8 3,-10.8 0,-13.4 Z"/></clipPath><g clip-path="url(#c15)"><rect x="-13" y="-14" width="26" height="28" fill="#ee3a24"/><path d="M-13,8 L13,-4.6 L13,15 L-13,15 Z" fill="#2450a6"/><path d="M-13,2.6 L13,-10 L13,-4 L-13,8.6 Z" fill="#fff"/><path d="M-4.6,1.6 L4.6,-2.8" stroke="#e39a3a" stroke-width="1.5" stroke-dasharray="1.6 0.7"/></g><path d="M0,-13.4 C-3,-10.8 -7.4,-9.8 -11.8,-10 C-12.2,-2 -10.6,7.6 0,13.4 C10.6,7.6 12.2,-2 11.8,-10 C7.4,-9.8 3,-10.8 0,-13.4 Z" fill="none" stroke="#8d6a8a" stroke-width="0.8"/></g>
<g transform="translate(172,907.4) scale(1)"><rect x="-12" y="-14.4" width="24.2" height="26.4" fill="#1f1a7a"/><polygon points="-6.20,-11.10 -5.34,-8.79 -2.87,-8.68 -4.80,-7.15 -4.14,-4.77 -6.20,-6.13 -8.26,-4.77 -7.60,-7.15 -9.53,-8.68 -7.06,-8.79" fill="#fff"/><polygon points="6.20,-11.50 7.06,-9.19 9.53,-9.08 7.60,-7.55 8.26,-5.17 6.20,-6.53 4.14,-5.17 4.80,-7.55 2.87,-9.08 5.34,-9.19" fill="#fff"/><polygon points="0.00,-4.50 0.86,-2.19 3.33,-2.08 1.40,-0.55 2.06,1.83 0.00,0.47 -2.06,1.83 -1.40,-0.55 -3.33,-2.08 -0.86,-2.19" fill="#fff"/><polygon points="-6.40,2.10 -5.54,4.41 -3.07,4.52 -5.00,6.05 -4.34,8.43 -6.40,7.07 -8.46,8.43 -7.80,6.05 -9.73,4.52 -7.26,4.41" fill="#fff"/><polygon points="6.20,2.10 7.06,4.41 9.53,4.52 7.60,6.05 8.26,8.43 6.20,7.07 4.14,8.43 4.80,6.05 2.87,4.52 5.34,4.41" fill="#fff"/><rect x="-12" y="13" width="24" height="2.6" fill="#fff"/><path d="M-11.5,14.6 H-7 M-4,14.6 H11.5" stroke="#2b2a8c" stroke-width="1.9" stroke-dasharray="1.5 0.5"/></g>
<g transform="translate(173.9,948.2) scale(0.94)"><clipPath id="c17"><path d="M0,-13.6 C-3,-11.4 -7,-10.6 -11.4,-10.8 C-12,-2 -10,8 0,13.6 C10,8 12,-2 11.4,-10.8 C7,-10.6 3,-11.4 0,-13.6 Z"/></clipPath><g clip-path="url(#c17)"><rect x="-13" y="-14" width="13" height="28" fill="#225e45"/><rect x="0" y="-14" width="13" height="28" fill="#a81c2b"/></g><path d="M0,-13.6 C-3,-11.4 -7,-10.6 -11.4,-10.8 C-12,-2 -10,8 0,13.6 C10,8 12,-2 11.4,-10.8 C7,-10.6 3,-11.4 0,-13.6 Z" fill="none" stroke="#3b3f3e" stroke-width="1.1"/><g fill="none" stroke="#f0ecec" stroke-width="1.1"><path d="M-2.6,-9.4 L0,-5.6 L2.6,-9.4 M0,-5.6 V8.4 M-2.2,8.4 H2.2"/><path d="M3.2,-1.6 A3.6,3.2 0 1 0 3.2,2.8"/><path d="M-0.2,-3.8 H2.4 A2.7,2.5 0 0 1 2.4,1.2 H0"/><path d="M-2.6,4.6 H2.6"/></g></g>
<g transform="translate(175.2,989.6) scale(1)"><path d="M-9.6,-6 L9.6,-6 L9.8,5 C9,9 5,12 0,14 C-5,12 -9,9 -9.8,5 Z" fill="#e8e6df" stroke="#2a2a28" stroke-width="1.2"/><path d="M-9.4,-13.6 C-7,-10 -4,-8.4 -1.4,-8 L0,-5.4 L1.4,-8 C4,-8.4 7,-10 9.4,-13.6 C10.4,-9 9.6,-5 8.4,-2.8 L-8.4,-2.8 C-9.6,-5 -10.4,-9 -9.4,-13.6 Z" fill="#3e3f3b"/><path d="M-7.4,-9.4 C-5,-7 -3,-6 -1,-5.8 M7.4,-9.4 C5,-7 3,-6 1,-5.8 M-8,-6 C-5,-4.6 -3,-4.2 -1,-4 M8,-6 C5,-4.6 3,-4.2 1,-4" stroke="#b9b9b2" stroke-width="0.7" fill="none"/><path d="M-13.6,-2.6 L13.6,-2.6 L11.8,0.6 L13.6,3.8 L-13.6,3.8 L-11.8,0.6 Z" fill="#161614"/><path d="M-8.6,0.6 H8.6" stroke="#d8d2b4" stroke-width="1.8" stroke-dasharray="1.3 0.5"/><circle cx="0" cy="8.2" r="2.6" fill="#fff" stroke="#2a2a28" stroke-width="0.7"/><circle cx="0" cy="8.2" r="0.9" fill="#2a2a28"/><path d="M-4.5,12.6 Q0,14.6 4.5,12.6" stroke="#161614" stroke-width="1.4" fill="none"/></g>
<!-- ===== sponsors ===== -->
<g id="tigo" fill="none" stroke="#3b2d87" stroke-linecap="round" stroke-linejoin="round">
<path d="M377,1025.2 V1041.4 Q377,1044 380.4,1044 H382.4" stroke-width="4.7"/>
<path d="M377,1029.7 H383.2" stroke-width="3.7"/>
<path d="M391.85,1030.8 V1041.2 Q391.85,1043.6 394.9,1043.5" stroke-width="4.7"/>
<circle cx="390.9" cy="1023.7" r="2.6" fill="#3b2d87" stroke="none"/>
<path d="M412.1,1031.9 A6.05,7.5 0 1 0 413,1040.9 L413.6,1038.9 H410.8" stroke-width="4.2"/>
<ellipse cx="427.4" cy="1037.2" rx="6.4" ry="7.5" stroke-width="4.6"/>
<path d="M419.2,1023.4 Q427.6,1011.8 436,1023.4 Q427.6,1017.6 419.2,1023.4 Z" fill="#3b2d87" stroke-width="0.6"/>
<path d="M403.3,1051.3 C406.5,1064.2 426,1064.2 429.3,1051.3 C424,1058.4 408.6,1058.4 403.3,1051.3 Z" fill="#3b2d87" stroke-width="0.6"/>
</g>
<g id="ueno" fill="none" stroke="#2dc5a0" stroke-width="3.6" stroke-linecap="round" stroke-linejoin="round">
<path d="M459.3,1037.7 V1042.35 a4.65,4.65 0 0 0 9.3,0 V1037.7"/>
<path d="M473.8,1042.7 H483.4 A4.85,4.65 0 1 0 481.7,1045.8"/>
<path d="M489.9,1047 V1041.5 a3.8,3.8 0 0 1 7.6,0 V1047"/>
<ellipse cx="509.6" cy="1042.35" rx="5.6" ry="4.65"/>
<path d="M529.2,1032.6 V1042.35"/>
<ellipse cx="534.8" cy="1042.35" rx="5.6" ry="4.65"/>
<ellipse cx="550.7" cy="1042.35" rx="4.5" ry="4.65"/>
<path d="M555.2,1037.7 V1047"/>
<path d="M561.5,1047 V1041.6 a3.9,3.9 0 0 1 7.8,0 V1047"/>
<path d="M575.9,1032.6 V1047"/>
<path d="M582.4,1037.9 Q581.2,1042.4 576.2,1042.5 Q581.8,1042.8 582.6,1047"/>
</g>
<g id="apostala">
<circle cx="688.5" cy="1040" r="16.4" fill="none" stroke="#c6202f" stroke-width="2.6"/>
<circle cx="675" cy="1047.2" r="1.5" fill="#111"/>
<g fill="none" stroke="#111" stroke-linecap="round" stroke-linejoin="round" stroke-width="3.6">
<path d="M683.6,1029.2 L681.4,1046 L685.8,1046.8"/>
<path d="M689.2,1045.4 L693.8,1031.8 L699.4,1044.4 M690.8,1041 L697.4,1040.2"/>
</g>
</g>

</svg>

<span class="t" id="aposta" style="left:605.07px;top:1027px;font-size:25.8px;color:#111;font-weight:700;transform-origin:0 0;transform:scaleX(0.8210);-webkit-text-stroke:0.7px #111;">aposta</span>
</div></body></html>
